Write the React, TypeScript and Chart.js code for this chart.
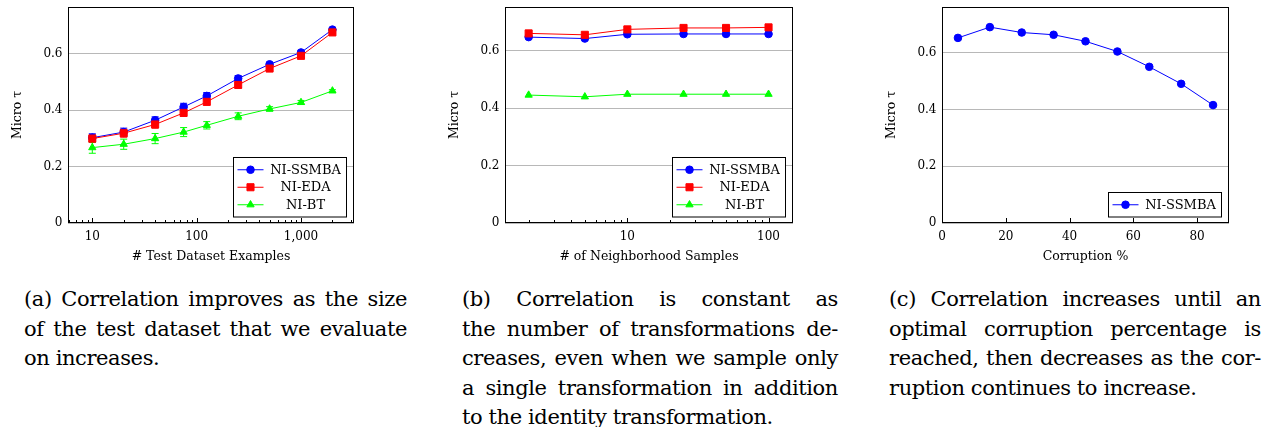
import React, { useEffect, useRef } from "react";
import { Chart, registerables } from "chart.js";

Chart.register(...registerables);

const FONT = "'DejaVu Serif', serif";

// ---------- series metadata ----------
const seriesNames = ["NI-SSMBA", "NI-EDA", "NI-BT"];
const seriesColors = ["#0000ff", "#ff0000", "#00ff00"];
const seriesMarkers = ["circle", "rect", "triangle"];
const seriesRadius = [3.8, 5, 4.2];

// ---------- (a) test dataset size ----------
const testSizes = [10, 20, 40, 75, 125, 250, 500, 1000, 2000];
const sizeSSMBA = [0.302, 0.322, 0.364, 0.411, 0.45, 0.512, 0.562, 0.604, 0.685];
const sizeEDA = [0.299, 0.318, 0.349, 0.39, 0.429, 0.489, 0.547, 0.592, 0.675];
const sizeBT = [0.267, 0.279, 0.299, 0.322, 0.346, 0.378, 0.404, 0.427, 0.468];
const sizeErrSSMBA = [0.014, 0.014, 0.012, 0.013, 0.012, 0.01, 0.007, 0.006, 0.004];
const sizeErrEDA = [0.014, 0.014, 0.013, 0.012, 0.011, 0.01, 0.007, 0.006, 0.004];
const sizeErrBT = [0.02, 0.018, 0.018, 0.016, 0.013, 0.012, 0.008, 0.007, 0.004];
const sizeTicks = [10, 100, 1000];

// ---------- (b) neighborhood samples ----------
const neighborSamples = [2, 5, 10, 25, 50, 100];
const nbSSMBA = [0.648, 0.643, 0.658, 0.659, 0.659, 0.659];
const nbEDA = [0.661, 0.656, 0.675, 0.68, 0.68, 0.682];
const nbBT = [0.446, 0.44, 0.449, 0.449, 0.449, 0.449];
const neighborTicks = [10, 100];

// ---------- (c) corruption ----------
const corruption = [5, 15, 25, 35, 45, 55, 65, 75, 85];
const corrSSMBA = [0.653, 0.691, 0.672, 0.664, 0.641, 0.605, 0.551, 0.491, 0.416];
const corruptionTicks = [0, 20, 40, 60, 80];

const yTicks = [0, 0.2, 0.4, 0.6];

// ---------- captions ----------
const captionA = [
  "(a) Correlation improves as the size",
  "of the test dataset that we evaluate",
  "on increases.",
];
const captionB = [
  "(b) Correlation is constant as",
  "the number of transformations de-",
  "creases, even when we sample only",
  "a single transformation in addition",
  "to the identity transformation.",
];
const captionC = [
  "(c) Correlation increases until an",
  "optimal corruption percentage is",
  "reached, then decreases as the cor-",
  "ruption continues to increase.",
];

function drawMarker(ctx: CanvasRenderingContext2D, style: string, x: number, y: number, r: number, color: string) {
  ctx.save();
  ctx.fillStyle = color;
  ctx.strokeStyle = color;
  ctx.lineWidth = 1;
  ctx.beginPath();
  if (style === "circle") {
    ctx.arc(x, y, r, 0, Math.PI * 2);
  } else if (style === "rect") {
    const s = r * Math.SQRT1_2;
    ctx.rect(x - s, y - s, 2 * s, 2 * s);
  } else {
    ctx.moveTo(x, y - r);
    ctx.lineTo(x + 0.866 * r, y + 0.5 * r);
    ctx.lineTo(x - 0.866 * r, y + 0.5 * r);
  }
  ctx.closePath();
  ctx.fill();
  ctx.stroke();
  ctx.restore();
}

const pgfPlugin = {
  id: "pgf",
  beforeDatasetsDraw(chart: any) {
    const { ctx } = chart;
    const xs = chart.scales.x;
    const ys = chart.scales.y;
    chart.data.datasets.forEach((ds: any) => {
      if (!ds.errorBars) return;
      ctx.save();
      ctx.strokeStyle = ds.borderColor;
      ctx.lineWidth = 1;
      ctx.beginPath();
      ds.data.forEach((pt: any, i: number) => {
        const e = ds.errorBars[i];
        const px = xs.getPixelForValue(pt.x);
        const y1 = ys.getPixelForValue(pt.y - e);
        const y2 = ys.getPixelForValue(pt.y + e);
        ctx.moveTo(px, y1);
        ctx.lineTo(px, y2);
        ctx.moveTo(px - 3.5, y1);
        ctx.lineTo(px + 3.5, y1);
        ctx.moveTo(px - 3.5, y2);
        ctx.lineTo(px + 3.5, y2);
      });
      ctx.stroke();
      ctx.restore();
    });
  },
  afterDraw(chart: any, _args: any, opts: any) {
    const { ctx, chartArea: a } = chart;
    const xs = chart.scales.x;
    ctx.save();
    ctx.strokeStyle = "#000";
    ctx.lineWidth = 1;
    ctx.beginPath();
    (opts.xTicks || []).forEach((v: number) => {
      const p = Math.round(xs.getPixelForValue(v)) + 0.5;
      ctx.moveTo(p, a.bottom);
      ctx.lineTo(p, a.bottom - 5);
    });
    if (opts.minorLog) {
      const lo = Math.floor(Math.log10(xs.min));
      const hi = Math.ceil(Math.log10(xs.max));
      for (let d = lo; d <= hi; d++) {
        for (let m = 2; m <= 9; m++) {
          const v = m * Math.pow(10, d);
          if (v < xs.min || v > xs.max) continue;
          const p = Math.round(xs.getPixelForValue(v)) + 0.5;
          ctx.moveTo(p, a.bottom);
          ctx.lineTo(p, a.bottom - 3);
        }
      }
    }
    ctx.stroke();
    const l = Math.round(a.left) + 0.5;
    const t = Math.round(a.top) + 0.5;
    const r = Math.round(a.right) - 0.5;
    const b = Math.round(a.bottom) - 0.5;
    ctx.strokeRect(l, t, r - l, b - t);

    const dsets = chart.data.datasets;
    const rowH = 17.5;
    const pad = 3.5;
    const w = 113;
    const h = dsets.length * rowH + 2 * pad;
    const x0 = Math.round(a.right - 8.5 - w) + 0.5;
    const y0 = Math.round(a.bottom - 6.5 - h) + 0.5;
    ctx.fillStyle = "#fff";
    ctx.fillRect(x0, y0, w, h);
    ctx.strokeStyle = "#000";
    ctx.strokeRect(x0, y0, w, h);
    dsets.forEach((ds: any, i: number) => {
      const cy = y0 + pad + rowH * (i + 0.5);
      ctx.strokeStyle = ds.borderColor;
      ctx.lineWidth = 1;
      ctx.beginPath();
      ctx.moveTo(x0 + 4, cy);
      ctx.lineTo(x0 + 30, cy);
      ctx.stroke();
      drawMarker(ctx, ds.pointStyle, x0 + 17, cy, ds.pointRadius, ds.borderColor);
      ctx.fillStyle = "#000";
      ctx.font = `13px ${FONT}`;
      ctx.textAlign = "center";
      ctx.textBaseline = "middle";
      ctx.fillText(ds.label, x0 + 31 + (w - 31) / 2, cy + 0.5);
    });
    ctx.restore();
  },
};

function makeDataset(idx: number, xs: number[], ys: number[], errs?: number[]) {
  return {
    label: seriesNames[idx],
    data: xs.map((x, i) => ({ x, y: ys[i] })),
    borderColor: seriesColors[idx],
    backgroundColor: seriesColors[idx],
    pointBackgroundColor: seriesColors[idx],
    pointBorderColor: seriesColors[idx],
    pointStyle: seriesMarkers[idx],
    pointRadius: seriesRadius[idx],
    pointBorderWidth: 1,
    borderWidth: 1,
    tension: 0,
    fill: false,
    order: 3 - idx,
    errorBars: errs,
  };
}

function buildConfig(p: any): any {
  return {
    type: "line",
    data: { datasets: p.datasets },
    options: {
      animation: false,
      responsive: false,
      maintainAspectRatio: false,
      events: [],
      layout: { padding: { top: 7, right: p.padRight, left: 0, bottom: 0 } },
      plugins: {
        legend: { display: false },
        tooltip: { enabled: false },
        pgf: { minorLog: p.minorLog, xTicks: p.xTicks },
      },
      scales: {
        x: {
          type: p.xType,
          min: p.xMin,
          max: p.xMax,
          afterBuildTicks: (s: any) => {
            s.ticks = p.xTicks.map((v: number) => ({ value: v }));
          },
          afterFit: (s: any) => {
            s.height = 47;
            s.paddingLeft = 0;
            s.paddingRight = 0;
          },
          grid: { display: false, drawTicks: false },
          border: { display: false },
          ticks: {
            color: "#000",
            font: { family: FONT, size: 12 },
            padding: 6.8,
            maxRotation: 0,
            autoSkip: false,
            callback: (v: any) => Number(v).toLocaleString("en-US"),
          },
          title: {
            display: true,
            text: p.xLabel,
            color: "#000",
            font: { family: FONT, size: 12.5 },
            padding: { top: 0, bottom: 5.5 },
          },
        },
        y: {
          type: "linear",
          min: 0,
          max: p.yMax,
          afterBuildTicks: (s: any) => {
            s.ticks = yTicks.map((v) => ({ value: v }));
          },
          afterFit: (s: any) => {
            s.width = 68;
            s.paddingTop = 0;
            s.paddingBottom = 0;
          },
          grid: { color: "#b8b8b8", lineWidth: 1, drawTicks: false },
          border: { display: false },
          ticks: {
            color: "#000",
            font: { family: FONT, size: 12 },
            padding: 5.5,
            callback: (v: any) => String(v),
          },
          title: {
            display: true,
            text: "Micro τ",
            color: "#000",
            font: { family: FONT, size: 12.5 },
            padding: { top: 10, bottom: 0 },
          },
        },
      },
    },
    plugins: [pgfPlugin],
  };
}

function ChartBox({ left, width, height, config }: { left: number; width: number; height: number; config: any }) {
  const ref = useRef<HTMLCanvasElement | null>(null);
  useEffect(() => {
    if (!ref.current) return;
    const chart = new Chart(ref.current, config);
    return () => chart.destroy();
  }, []);
  return (
    <div style={{ position: "absolute", left, top: 0, width, height }}>
      <canvas ref={ref} width={width} height={height} style={{ width, height, display: "block" }} />
    </div>
  );
}

function Caption({ left, width, lines }: { left: number; width: number; lines: string[] }) {
  return (
    <div
      style={{
        position: "absolute",
        left,
        top: 285,
        width,
        fontFamily: FONT,
        fontSize: 21,
        letterSpacing: "-0.4px",
        lineHeight: "29.5px",
        color: "#000",
      }}
    >
      {lines.map((ln, i) => (
        <div
          key={i}
          style={{
            height: 29.5,
            textAlign: "justify",
            textAlignLast: i < lines.length - 1 ? "justify" : "left",
          }}
        >
          {ln}
        </div>
      ))}
    </div>
  );
}

export default function App() {
  const cfgA = buildConfig({
    datasets: [
      makeDataset(0, testSizes, sizeSSMBA, sizeErrSSMBA),
      makeDataset(1, testSizes, sizeEDA, sizeErrEDA),
      makeDataset(2, testSizes, sizeBT, sizeErrBT),
    ],
    xType: "logarithmic",
    xMin: 5.85,
    xMax: 3220,
    xTicks: sizeTicks,
    xLabel: "# Test Dataset Examples",
    yMax: 0.765,
    minorLog: true,
    padRight: 18,
  });
  const cfgB = buildConfig({
    datasets: [
      makeDataset(0, neighborSamples, nbSSMBA),
      makeDataset(1, neighborSamples, nbEDA),
      makeDataset(2, neighborSamples, nbBT),
    ],
    xType: "logarithmic",
    xMin: 1.36,
    xMax: 149,
    xTicks: neighborTicks,
    xLabel: "# of Neighborhood Samples",
    yMax: 0.753,
    minorLog: true,
    padRight: 16,
  });
  const cfgC = buildConfig({
    datasets: [makeDataset(0, corruption, corrSSMBA)],
    xType: "linear",
    xMin: 0,
    xMax: 90,
    xTicks: corruptionTicks,
    xLabel: "Corruption %",
    yMax: 0.762,
    minorLog: false,
    padRight: 17,
  });
  return (
    <div style={{ position: "absolute", left: 0, top: 0, width: 1274, height: 427, background: "#fff", overflow: "hidden" }}>
      <ChartBox left={0} width={372} height={270} config={cfgA} />
      <ChartBox left={437} width={372} height={270} config={cfgB} />
      <ChartBox left={874} width={372} height={270} config={cfgC} />
      <Caption left={24} width={383} lines={captionA} />
      <Caption left={462} width={376} lines={captionB} />
      <Caption left={889} width={372} lines={captionC} />
    </div>
  );
}
